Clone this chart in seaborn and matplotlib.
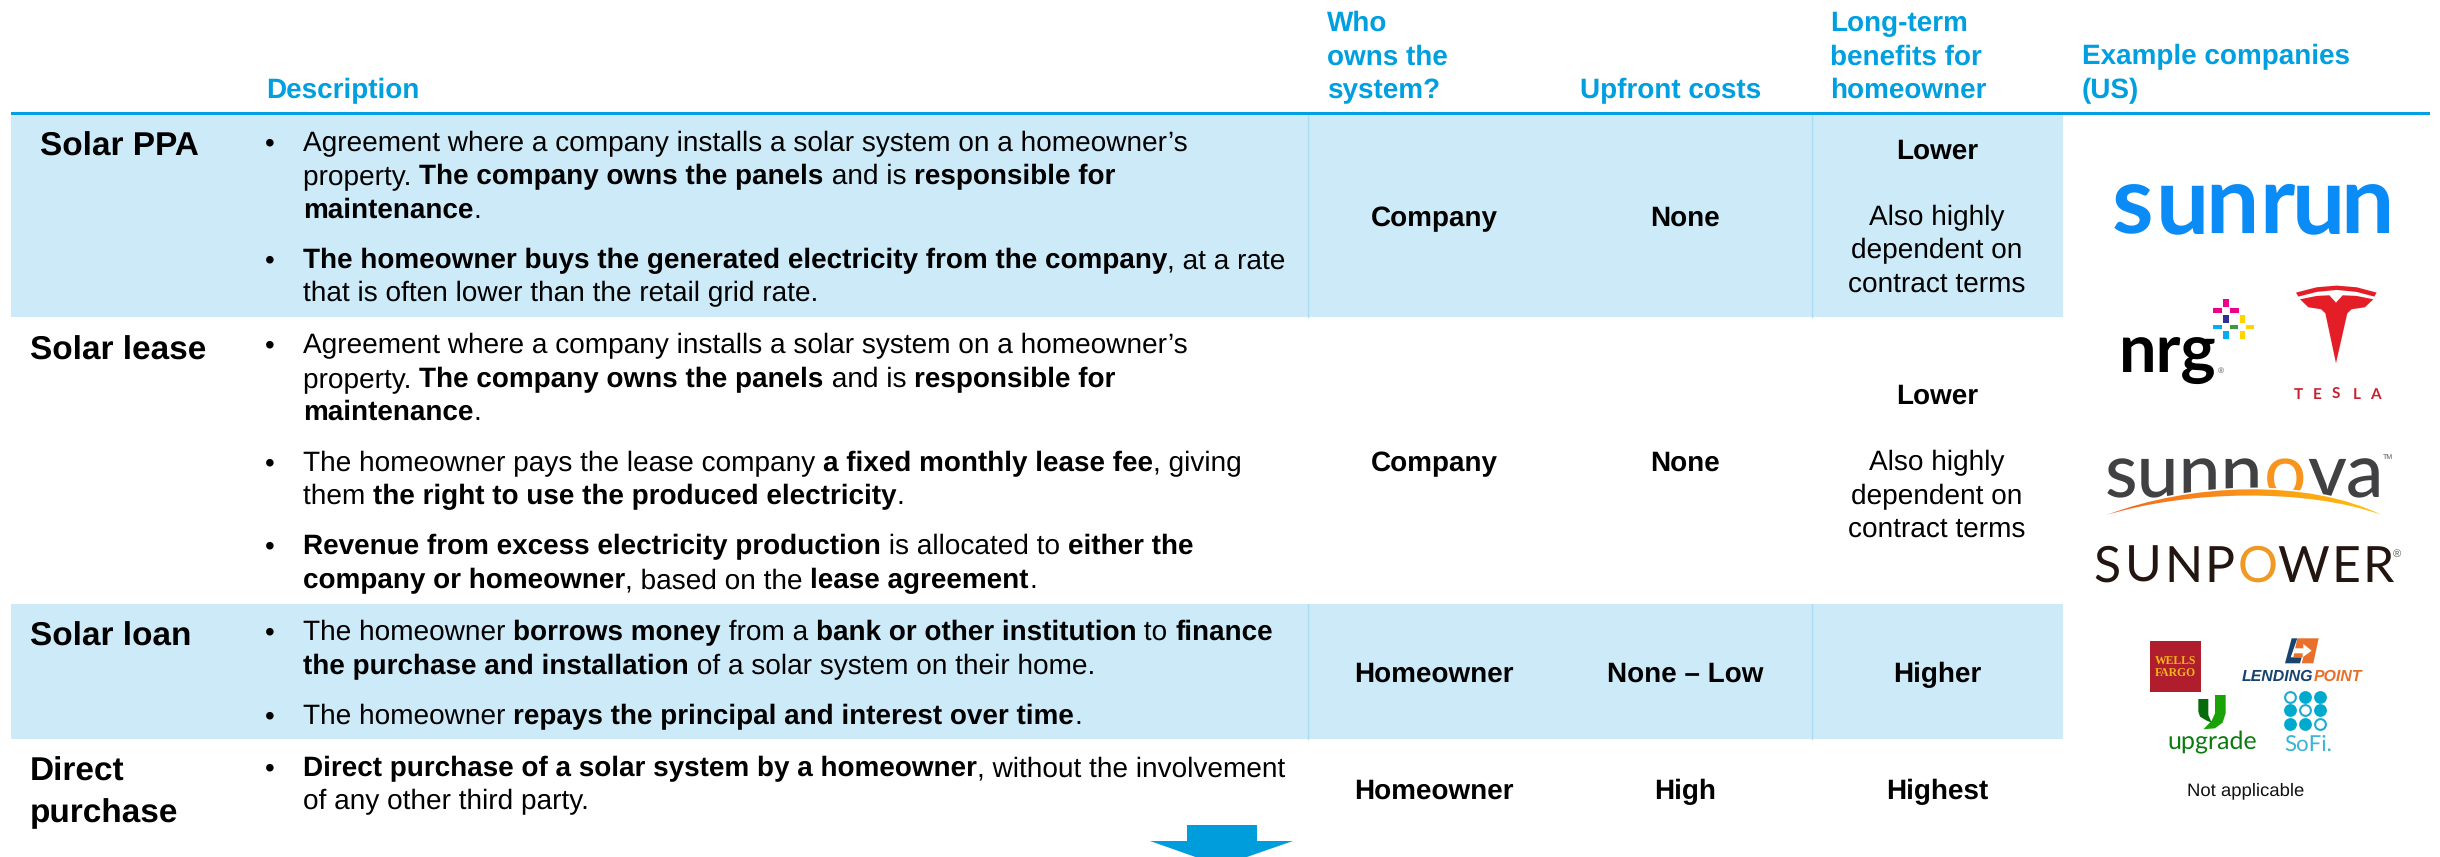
import matplotlib
matplotlib.use("Agg")
import matplotlib.pyplot as plt
from matplotlib.patches import Rectangle, Polygon, PathPatch
from matplotlib.path import Path
from matplotlib.colors import to_rgb
import numpy as np
import pandas as pd
import seaborn as sns

sns.set_theme(style="white")
plt.rcParams["font.family"] = ["Liberation Sans", "DejaVu Sans"]
plt.rcParams["text.hinting"] = "none"
plt.rcParams["text.color"] = "black"

BLUE = "#009fdf"
BAND = "#cceaf7"
SEP = "#a9dcf2"
BODY = 20.15
BODY_BOLD = 20.05

# header
headers = [["Description"], ["Who", "owns the", "system?"], ["Upfront costs"],
           ["Long-term", "benefits for", "homeowner"], ["Example companies", "(US)"]]
header_x = [266, 1327, 1580, 1830, 2082]

# row names
row_titles = [["Solar PPA"], ["Solar lease"], ["Solar loan"], ["Direct", "purchase"]]
title_x = [40, 30, 30, 30]
title_y = [[156], [360], [646], [781, 822]]

# description, ** switches bold on and off
desc_lines = [
    "Agreement where a company installs a solar system on a homeowner\u2019s",
    "property. **The company owns the panels** and is **responsible for**",
    "**maintenance**.",
    "**The homeowner buys the generated electricity from the company**, at a rate",
    "that is often lower than the retail grid rate.",
    "Agreement where a company installs a solar system on a homeowner\u2019s",
    "property. **The company owns the panels** and is **responsible for**",
    "**maintenance**.",
    "The homeowner pays the lease company **a fixed monthly lease fee**, giving",
    "them **the right to use the produced electricity**.",
    "**Revenue from excess electricity production** is allocated to **either the**",
    "**company or homeowner**, based on the **lease agreement**.",
    "The homeowner **borrows money** from a **bank or other institution** to **finance**",
    "**the purchase and installation** of a solar system on their home.",
    "The homeowner **repays the principal and interest over time**.",
    "**Direct purchase of a solar system by a homeowner**, without the involvement",
    "of any other third party.",
]
desc_y = [151, 184, 218, 268, 301, 353, 387, 420, 471, 504, 554, 588, 640, 674, 724, 776, 809]
bullet_lines = [0, 3, 5, 8, 10, 12, 14, 15]

# the three centred columns
owner = ["Company", "Company", "Homeowner", "Homeowner"]
owner_y = [226, 471, 682, 799]
upfront = ["None", "None", "None \u2013 Low", "High"]
benefit = ["Lower", "Lower", "Higher", "Highest"]
benefit_y = [159, 404, 682, 799]
benefit_note = ["Also highly", "dependent on", "contract terms"]
note_y = [[225, 258, 292], [470, 504, 537]]

band_top = [115, 604]
band_bottom = [317, 739]
sep_x = [1308, 1812]

# sofi dots
sofi_col = [0, 1, 2, 0, 1, 2, 0, 1, 2]
sofi_row = [0, 0, 0, 1, 1, 1, 2, 2, 2]
sofi_open = [True, False, False, False, True, False, False, False, True]

# nrg squares: x, y, colour in crop units
nrg_x = [558, 533, 583, 558, 607, 533, 582, 630, 558, 607]
nrg_y = [98, 122, 122, 146, 146, 171, 171, 171, 195, 195]
nrg_c = ["#ec008c", "#ec008c", "#ec008c", "#2e3192", "#ffd400",
         "#00aeef", "#3a9b3c", "#ffd400", "#00aeef", "#ffd400"]

fig = plt.figure(figsize=(24.4, 8.571), dpi=100)
ax = fig.add_axes([0, 0, 1, 1])
ax.set_xlim(0, 2440)
ax.set_ylim(857, 0)
ax.set_axis_off()
rend = fig.canvas.get_renderer()


def rich(x, y, line):
    # odd parts of the split are bold
    for i, part in enumerate(line.split("**")):
        if part == "":
            continue
        t = ax.text(x, y, part, fontsize=BODY_BOLD if i % 2 else BODY, va="baseline", ha="left",
                    fontweight="bold" if i % 2 else "normal")
        x += t.get_window_extent(rend).width


for labels, hx in zip(headers, header_x):
    for k, s in enumerate(reversed(labels)):
        ax.text(hx, 98 - k * 33.5, s, fontsize=20.1, fontweight="bold", color=BLUE, va="baseline")

for top, bot in zip(band_top, band_bottom):
    ax.add_patch(Rectangle((11, top), 2063 - 11, bot - top, color=BAND, lw=0, zorder=0))
    for sx in sep_x:
        ax.plot([sx, sx], [top, bot], color=SEP, lw=1, zorder=1)
ax.add_patch(Rectangle((11, 112), 2419, 3.5, color="#00a0e3", lw=0))

for labels, tx, ys in zip(row_titles, title_x, title_y):
    for s, y in zip(labels, ys):
        ax.text(tx, y, s, fontsize=24, fontweight="bold", va="baseline")

for i, (line, y) in enumerate(zip(desc_lines, desc_y)):
    rich(303, y, line)
    if i in bullet_lines:
        ax.text(265, y, "\u2022", fontsize=20, va="baseline")

for j in range(4):
    ax.text(1434, owner_y[j], owner[j], fontsize=BODY_BOLD, fontweight="bold", ha="center", va="baseline")
    ax.text(1685, owner_y[j], upfront[j], fontsize=BODY_BOLD, fontweight="bold", ha="center", va="baseline")
    ax.text(1937, benefit_y[j], benefit[j], fontsize=BODY_BOLD, fontweight="bold", ha="center", va="baseline")
for ys in note_y:
    for s, y in zip(benefit_note, ys):
        ax.text(1937, y, s, fontsize=BODY, ha="center", va="baseline")

ax.text(2246, 795, "Not applicable", fontsize=13.3, ha="center", va="baseline", color="#111111")

# arrow, runs off the bottom edge
ax.add_patch(Polygon([(1187, 825), (1257, 825), (1257, 841), (1293, 841), (1221, 866),
                      (1150, 841), (1187, 841)], closed=True, color="#009ddc", lw=0, clip_on=True))


def z3(pts, ox=2040, oy=270):
    # crop units to pixels
    return [(ox + a / 3, oy + b / 3) for a, b in pts]


# sunrun
for c, x in zip("sunrun", [2132, 2182, 2232, 2277, 2318, 2367]):
    ax.text(x, 233, c, fontsize=68, fontweight="bold", family="Lato", color="#0a8bf5",
            ha="center", va="baseline")

# nrg
ax.text(2119, 372, "nrg", fontsize=48, fontweight="bold", family="Lato", color="black", va="baseline")
ax.text(2221, 373, "\u00ae", fontsize=6, color="#555555", ha="center", va="baseline")
for a, b, c, in zip(nrg_x, nrg_y, nrg_c):
    wide = c != "#2e3192" and (a, b) not in [(558, 98), (558, 195), (607, 146), (607, 195)]
    w, h = (26, 14) if wide else (16, 24)
    (x0, y0), = z3([(a - w / 2, b - h / 2)])
    ax.add_patch(Rectangle((x0, y0), w / 3, h / 3, color=c, lw=0))

# tesla
ax.add_patch(Polygon(z3([(768, 68), (830, 52), (890, 47), (950, 52), (1010, 68), (1003, 80),
                         (950, 66), (890, 60), (830, 66), (775, 80)]), closed=True, color="#e31e26", lw=0))
ax.add_patch(Polygon(z3([(780, 88), (830, 78), (868, 76), (888, 98), (908, 76), (950, 78), (1000, 88),
                         (975, 112), (935, 118), (922, 130), (888, 280), (856, 130), (843, 118),
                         (805, 112)]), closed=True, color="#e31e26", lw=0))
for c, x in zip("TESLA", [2298, 2317, 2336, 2357, 2375]):
    ax.text(x, 399, c, fontsize=11, fontweight="bold", family="Lato", color="#c8202f", ha="center", va="baseline")

# sunnova
ax.text(2105, 497, "sunn", fontsize=54, fontweight=500, family="Lato", color="#414042", va="baseline")
ax.text(2285, 497, "o", fontsize=54, family="Lato", color="#f7941d", ha="center", va="baseline")
ax.text(2384, 497, "va", fontsize=54, fontweight=500, family="Lato", color="#414042", ha="right", va="baseline")
ax.text(2388, 459, "TM", fontsize=5, color="#555555", ha="center", va="baseline")
swoosh = Path(z3([(200, 735), (450, 640), (800, 625), (1025, 735), (800, 655), (450, 660), (200, 735)]),
              [Path.MOVETO, Path.CURVE4, Path.CURVE4, Path.CURVE4, Path.CURVE4, Path.CURVE4, Path.CURVE4])
mask = PathPatch(swoosh, facecolor="white", edgecolor="white", lw=2.5, zorder=3)
ax.add_patch(mask)
ax.add_patch(Rectangle((2107, 503), 290, 19, color="white", lw=0, zorder=3))
fill = PathPatch(swoosh, facecolor="none", edgecolor="none", zorder=4)
ax.add_patch(fill)
c0, c1 = np.array(to_rgb("#f26522")), np.array(to_rgb("#ffc20e"))
grad = np.linspace(0, 1, 64)[None, :, None] * (c1 - c0) + c0
im = ax.imshow(grad, extent=[2107, 2382, 520, 485], aspect="auto", zorder=4)
im.set_clip_path(fill)

# sunpower, letters placed by hand for the wide tracking
for c, x, col in zip("SUNPOWER", [2107, 2143, 2184, 2219, 2258, 2303, 2346, 2378],
                     ["#231510"] * 4 + ["#f09a26"] + ["#231510"] * 3):
    ax.text(x, 582, c, fontsize=36, family="Lato", color=col, ha="center", va="baseline")
ax.text(2397, 557, "\u00ae", fontsize=8, color="#555555", ha="center", va="baseline")

# wells fargo
ax.add_patch(Rectangle((2150, 641), 51, 51, color="#b01e2e", lw=0))
for s, y in zip(["WELLS", "FARGO"], [665, 677]):
    ax.text(2175.5, y, s, fontsize=8.4, fontweight="bold", family="Liberation Serif", color="#f5b61a",
            ha="center", va="baseline")

# lendingpoint
ax.add_patch(Polygon(z3([(755, 115), (772, 115), (752, 172), (785, 172), (780, 190), (735, 190)], oy=600),
                     closed=True, color="#17436f", lw=0))
ax.add_patch(Polygon(z3([(772, 115), (836, 115), (820, 190), (785, 190), (790, 172), (760, 172)], oy=600),
                     closed=True, color="#e8702a", lw=0))
ax.add_patch(Polygon(z3([(765, 145), (790, 145), (790, 132), (815, 152), (788, 172), (788, 160), (760, 160)], oy=600),
                     closed=True, color="white", lw=0))
lp = ax.text(2242, 681, "LENDING", fontsize=11.4, fontweight="bold", style="italic", color="#17436f", va="baseline")
ax.text(2242 + lp.get_window_extent(rend).width, 681, "POINT", fontsize=11.4, fontweight="bold", style="italic",
        color="#e8702a", va="baseline")

# upgrade
ax.add_patch(Polygon(z3([(475, 297), (505, 297), (505, 345), (515, 368), (500, 362), (480, 350), (475, 335)], oy=600),
                     closed=True, color="#066b0c", lw=0))
ax.add_patch(Polygon(z3([(525, 285), (557, 285), (557, 340), (548, 368), (525, 385), (490, 388),
                         (515, 362), (525, 340)], oy=600), closed=True, color="#1aa308", lw=0))
ax.text(2212, 748, "upgrade", fontsize=18, family="Lato", color="#0b7a0f", ha="center", va="baseline")

# sofi
sofi = pd.DataFrame({"x": 2290 + np.array(sofi_col) * 15, "y": 697 + np.array(sofi_row) * 13.5, "open": sofi_open})
sns.scatterplot(data=sofi[~sofi["open"]], x="x", y="y", s=85, color="#00a9ce", linewidth=0, ax=ax, legend=False)
sns.scatterplot(data=sofi[sofi["open"]], x="x", y="y", s=60, facecolor="white", edgecolor="#1cabd1",
                linewidth=1.5, ax=ax, legend=False)
ax.text(2284, 751, "SoFi.", fontsize=16, family="Lato", color="#39b4d4", va="baseline")

ax.set_xlim(0, 2440)
ax.set_ylim(857, 0)
ax.set_xlabel("")
ax.set_ylabel("")
fig.savefig("out.png", dpi=100, facecolor="white")
